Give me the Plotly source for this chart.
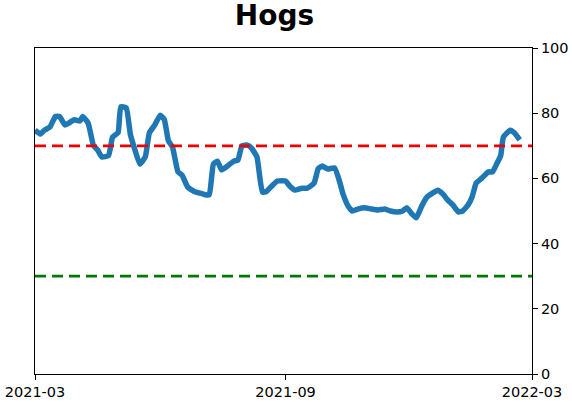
import plotly.graph_objects as go

dates = [
    "2021-03-01", "2021-03-05", "2021-03-08", "2021-03-12", "2021-03-16", "2021-03-19",
    "2021-03-23", "2021-03-27", "2021-03-30", "2021-04-03", "2021-04-05", "2021-04-09",
    "2021-04-13", "2021-04-16", "2021-04-19", "2021-04-24", "2021-04-27", "2021-05-01",
    "2021-05-03", "2021-05-07", "2021-05-10", "2021-05-13", "2021-05-17", "2021-05-21",
    "2021-05-24", "2021-05-28", "2021-06-01", "2021-06-04", "2021-06-07", "2021-06-10",
    "2021-06-14", "2021-06-17", "2021-06-21", "2021-06-26", "2021-07-04", "2021-07-07",
    "2021-07-10", "2021-07-13", "2021-07-16", "2021-07-21", "2021-07-25", "2021-07-28",
    "2021-07-31", "2021-08-04", "2021-08-07", "2021-08-11", "2021-08-15", "2021-08-18",
    "2021-08-22", "2021-08-26", "2021-09-01", "2021-09-04", "2021-09-08", "2021-09-13",
    "2021-09-17", "2021-09-22", "2021-09-25", "2021-09-28", "2021-10-02", "2021-10-07",
    "2021-10-11", "2021-10-13", "2021-10-17", "2021-10-20", "2021-10-24", "2021-10-29",
    "2021-11-03", "2021-11-08", "2021-11-13", "2021-11-17", "2021-11-22", "2021-11-26",
    "2021-11-29", "2021-12-03", "2021-12-06", "2021-12-10", "2021-12-14", "2021-12-18",
    "2021-12-22", "2021-12-26", "2021-12-29", "2022-01-02", "2022-01-06", "2022-01-09",
    "2022-01-13", "2022-01-16", "2022-01-19", "2022-01-23", "2022-01-28", "2022-01-31",
    "2022-02-03", "2022-02-06", "2022-02-08", "2022-02-13", "2022-02-16", "2022-02-20",
]
values = [
    74.8, 73.6, 74.8, 75.8, 79.0, 79.0, 76.4, 77.3, 78.0, 77.6, 79.0, 77.0,
    70.0, 68.7, 66.6, 67.0, 72.7, 74.0, 82.0, 81.6, 73.6, 69.3, 64.4, 66.6,
    74.0, 76.4, 79.4, 78.0, 71.5, 69.6, 62.0, 61.0, 57.4, 56.0, 55.0, 55.0,
    64.4, 65.3, 62.6, 64.0, 65.3, 65.6, 70.0, 70.2, 69.3, 66.6, 55.8, 56.0,
    57.7, 59.2, 59.2, 57.7, 56.4, 57.0, 57.0, 58.6, 63.0, 63.8, 62.9, 63.2,
    58.6, 55.5, 51.5, 50.0, 50.6, 51.0, 50.6, 50.3, 50.6, 50.0, 49.7, 50.0,
    51.0, 49.0, 47.9, 51.5, 54.3, 55.5, 56.4, 55.0, 53.4, 51.8, 49.7, 50.0,
    51.8, 54.3, 58.6, 60.0, 62.0, 62.0, 64.4, 67.0, 72.7, 74.8, 74.0, 71.8,
]

upper_level = 70
lower_level = 30
x_ticks = ["2021-03-01", "2021-09-01", "2022-03-01"]
x_tick_labels = ["2021-03", "2021-09", "2022-03"]
y_ticks = [0, 20, 40, 60, 80, 100]

fig = go.Figure()
fig.add_trace(go.Scatter(x=dates, y=values, mode="lines",
                         line=dict(color="#1f77b4", width=5.5, shape="spline", smoothing=0.4),
                         showlegend=False))

fig.add_hline(y=upper_level, line=dict(color="#ee0000", width=2.7, dash="11px,6px"))
fig.add_hline(y=lower_level, line=dict(color="#007700", width=2.7, dash="11px,6px"))

fig.update_layout(
    width=572, height=402,
    margin=dict(l=35, r=40, t=48, b=28, autoexpand=False),
    paper_bgcolor="white", plot_bgcolor="white",
    font=dict(family="DejaVu Sans", size=14.5, color="black"),
    title=dict(text="<b>Hogs</b>", x=0.48, xref="container", xanchor="center",
               y=0.962, yref="container", yanchor="middle",
               font=dict(size=28, color="black")),
)
fig.update_xaxes(
    range=["2021-03-01", "2022-03-01"], tickvals=x_ticks, ticktext=x_tick_labels,
    showgrid=False, zeroline=False, showline=True, linecolor="black", linewidth=1,
    mirror=True, ticks="outside", ticklen=5, tickcolor="black", automargin=False,
)
fig.update_yaxes(
    range=[0, 100], tickvals=y_ticks, side="right",
    showgrid=False, zeroline=False, showline=True, linecolor="black", linewidth=1,
    mirror=True, ticks="outside", ticklen=5, tickcolor="black", automargin=False,
)

# drop the page's default body margin so the figure sits at the window's corner
fig.write_html("out.html", config={"displayModeBar": False},
               post_script="document.body.style.margin='0';")
